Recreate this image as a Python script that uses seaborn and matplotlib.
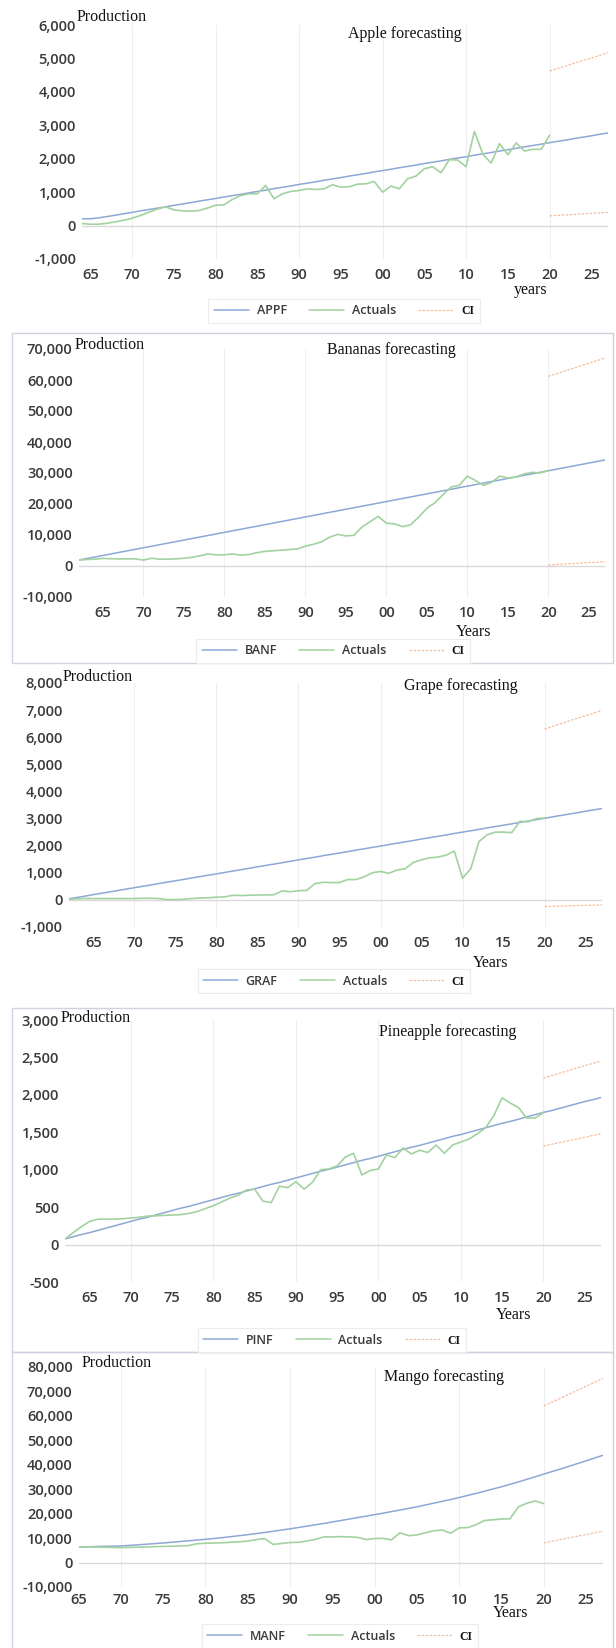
import matplotlib
matplotlib.use("Agg")
import matplotlib.pyplot as plt
import seaborn as sns
import pandas as pd
from matplotlib.lines import Line2D
from matplotlib.patches import Rectangle

sns.set_theme(style="white")
plt.rcParams['font.family'] = ['Open Sans', 'DejaVu Sans']

# ---------------- data ----------------
tick_years = [1965, 1970, 1975, 1980, 1985, 1990, 1995, 2000, 2005, 2010, 2015, 2020, 2025]
tick_labels = ['65', '70', '75', '80', '85', '90', '95', '00', '05', '10', '15', '20', '25']
grid_years = [1970, 1980, 1990, 2000, 2010, 2020]
ci_years = [2020, 2021, 2022, 2023, 2024, 2025, 2026, 2027]

# Apple
apple_fc_start, apple_act_start = 1964, 1964
apple_fc = [200, 205, 230, 270, 310, 355, 395, 440, 480, 520, 560, 605, 645, 685, 730, 770,
            810, 855, 895, 935, 980, 1020, 1060, 1105, 1145, 1185, 1230, 1270, 1310, 1355,
            1395, 1435, 1480, 1520, 1560, 1605, 1645, 1685, 1730, 1770, 1810, 1855, 1895,
            1935, 1980, 2020, 2060, 2105, 2145, 2185, 2230, 2270, 2310, 2355, 2395, 2435,
            2480, 2520, 2560, 2605, 2645, 2685, 2730, 2770]
apple_act = [60, 40, 40, 70, 110, 160, 220, 300, 400, 490, 560, 470, 440, 430, 450, 520,
             610, 620, 780, 900, 950, 950, 1200, 800, 950, 1020, 1050, 1100, 1080, 1100,
             1220, 1150, 1160, 1240, 1250, 1320, 1000, 1180, 1100, 1400, 1480, 1700, 1760,
             1580, 1970, 1960, 1760, 2820, 2140, 1870, 2450, 2120, 2470, 2230, 2280, 2280, 2700]
apple_ci_up = [4620, 4700, 4780, 4860, 4940, 5010, 5090, 5170]
apple_ci_lo = [290, 305, 320, 335, 350, 365, 380, 395]

# Bananas
ban_fc_start, ban_act_start = 1962, 1962
ban_fc = [1900, 2400, 2890, 3390, 3890, 4390, 4880, 5380, 5880, 6370, 6870, 7370, 7860, 8360,
          8860, 9360, 9850, 10350, 10850, 11340, 11840, 12340, 12830, 13330, 13830, 14330,
          14820, 15320, 15820, 16310, 16810, 17310, 17800, 18300, 18800, 19300, 19790, 20290,
          20790, 21280, 21780, 22280, 22770, 23270, 23770, 24270, 24760, 25260, 25760, 26250,
          26750, 27250, 27740, 28240, 28740, 29240, 29730, 30230, 30730, 31220, 31720, 32220,
          32710, 33210, 33710, 34210]
ban_act = [1900, 2100, 2200, 2450, 2350, 2300, 2300, 2300, 1900, 2500, 2200, 2200, 2300, 2500,
           2800, 3300, 3900, 3600, 3600, 3900, 3500, 3700, 4300, 4700, 4900, 5100, 5300, 5500,
           6400, 7000, 7800, 9300, 10200, 9700, 9900, 12600, 14300, 16000, 13800, 13600, 12700,
           13300, 15800, 18600, 20400, 23000, 25500, 26000, 29000, 27600, 26000, 27000, 29000,
           28400, 28700, 29700, 30200, 30000, 30800]
ban_ci_up = [61200, 62000, 62900, 63700, 64600, 65400, 66200, 67100]
ban_ci_lo = [320, 470, 620, 780, 930, 1080, 1240, 1390]

# Grape
gra_fc_start, gra_act_start = 1962, 1962
gra_fc = [40, 90, 140, 195, 245, 295, 345, 400, 450, 500, 550, 605, 655, 705, 755, 810, 860,
          910, 960, 1010, 1065, 1115, 1165, 1220, 1270, 1320, 1370, 1425, 1475, 1525, 1575,
          1630, 1680, 1730, 1780, 1835, 1885, 1935, 1985, 2040, 2090, 2140, 2190, 2245, 2295,
          2345, 2395, 2450, 2500, 2550, 2600, 2655, 2705, 2755, 2805, 2860, 2910, 2960, 3010,
          3065, 3115, 3165, 3215, 3270, 3320, 3370]
gra_act = [20, 40, 50, 50, 50, 50, 50, 50, 50, 60, 60, 50, 10, 10, 20, 50, 70, 80, 100, 110,
           170, 160, 170, 180, 180, 190, 330, 300, 340, 350, 600, 650, 640, 640, 750, 750, 850,
           1000, 1050, 980, 1100, 1150, 1380, 1480, 1550, 1580, 1650, 1800, 800, 1150, 2150,
           2400, 2500, 2500, 2480, 2900, 2880, 3000, 3020]
gra_ci_up = [6300, 6400, 6500, 6600, 6700, 6790, 6890, 6990]
gra_ci_lo = [-245, -236, -228, -219, -211, -202, -194, -185]

# Pineapple
pin_fc_start, pin_act_start = 1962, 1962
pin_fc = [75, 105, 135, 160, 190, 220, 250, 280, 310, 340, 365, 395, 425, 455, 485, 510, 540,
          570, 600, 630, 660, 685, 715, 745, 775, 805, 830, 860, 890, 920, 950, 980, 1005,
          1035, 1065, 1095, 1125, 1150, 1180, 1210, 1240, 1270, 1300, 1325, 1355, 1385, 1415,
          1445, 1470, 1500, 1530, 1560, 1590, 1620, 1645, 1675, 1705, 1735, 1765, 1790, 1820,
          1850, 1880, 1910, 1935, 1965]
pin_act = [75, 160, 240, 310, 340, 340, 340, 345, 355, 365, 380, 385, 390, 395, 400, 415, 440,
           480, 520, 570, 620, 660, 730, 740, 580, 560, 780, 760, 840, 740, 830, 1000, 1010,
           1050, 1170, 1220, 930, 990, 1010, 1200, 1160, 1290, 1210, 1260, 1230, 1330, 1220,
           1330, 1370, 1410, 1480, 1560, 1720, 1960, 1890, 1830, 1690, 1690, 1760]
pin_ci_up = [2224, 2257, 2290, 2323, 2356, 2389, 2421, 2454]
pin_ci_lo = [1316, 1339, 1363, 1386, 1410, 1433, 1457, 1480]

# Mango
man_fc_start, man_act_start = 1965, 1965
man_fc = [6400, 6450, 6550, 6650, 6700, 6800, 7000, 7250, 7500, 7750, 8000, 8300, 8600, 8900,
          9200, 9500, 9850, 10200, 10600, 11000, 11400, 11850, 12300, 12800, 13300, 13800,
          14350, 14900, 15450, 16000, 16600, 17200, 17800, 18400, 19000, 19600, 20200, 20850,
          21500, 22150, 22800, 23550, 24300, 25050, 25800, 26600, 27450, 28300, 29200, 30100,
          31000, 32000, 33000, 34050, 35100, 36200, 37250, 38300, 39400, 40500, 41600, 42750,
          43900]
man_act = [6400, 6400, 6350, 6300, 6200, 6100, 6200, 6300, 6400, 6500, 6600, 6700, 6800, 6950,
           7700, 7900, 8000, 8100, 8300, 8500, 8800, 9400, 9800, 7400, 7800, 8200, 8300, 8800,
           9500, 10500, 10500, 10600, 10500, 10300, 9400, 9800, 9900, 9300, 12200, 11000,
           11300, 12200, 13000, 13300, 12000, 14200, 14300, 15500, 17200, 17500, 17800, 17900,
           22800, 24300, 25200, 24100]
man_ci_up = [64100, 65700, 67300, 68900, 70500, 72100, 73700, 75300]
man_ci_lo = [8050, 8730, 9410, 10090, 10780, 11460, 12140, 12820]

# ---------------- styling ----------------
W, H = 616, 1648
C_FC, C_ACT, C_CI = '#8ea8d6', '#a2d2a0', '#f5bc9c'
TICK_C = '#3a3a3a'
SERIF = ['Liberation Serif', 'DejaVu Serif']
CI_STYLE = (0, (2.0, 1.2))

def fx(x):
    return x / W

def fy(y):
    return 1 - y / H

panels = [
    dict(name='APPF', title='Apple forecasting', fc=apple_fc, fcs=apple_fc_start,
         act=apple_act, acs=apple_act_start, up=apple_ci_up, lo=apple_ci_lo,
         ylim=(-1000, 6000), ystep=1000, box=(82, 608, 25, 259), xpad=6.5,
         prod=(77, 17), title_xy=(405, 34), xlab='years', xlab_xy=(531, 290),
         leg=(344, 311)),
    dict(name='BANF', title='Bananas forecasting', fc=ban_fc, fcs=ban_fc_start,
         act=ban_act, acs=ban_act_start, up=ban_ci_up, lo=ban_ci_lo,
         ylim=(-10000, 70000), ystep=10000, box=(78.6, 605, 349, 597), xpad=6.5,
         prod=(75, 345), title_xy=(391, 350), xlab='Years', xlab_xy=(474, 632),
         leg=(333, 651)),
    dict(name='GRAF', title='Grape forecasting', fc=gra_fc, fcs=gra_fc_start,
         act=gra_act, acs=gra_act_start, up=gra_ci_up, lo=gra_ci_lo,
         ylim=(-1000, 8000), ystep=1000, box=(68.8, 602, 683, 927), xpad=6.5,
         prod=(63, 677), title_xy=(461, 686), xlab='Years', xlab_xy=(491, 963),
         leg=(334, 981)),
    dict(name='PINF', title='Pineapple forecasting', fc=pin_fc, fcs=pin_fc_start,
         act=pin_act, acs=pin_act_start, up=pin_ci_up, lo=pin_ci_lo,
         ylim=(-500, 3000), ystep=500, box=(65, 601, 1020, 1282), xpad=6.5,
         prod=(61, 1018), title_xy=(448, 1032), xlab='Years', xlab_xy=(514, 1315),
         leg=(332, 1340)),
    dict(name='MANF', title='Mango forecasting', fc=man_fc, fcs=man_fc_start,
         act=man_act, acs=man_act_start, up=man_ci_up, lo=man_ci_lo,
         ylim=(-10000, 80000), ystep=10000, box=(78.6, 603, 1367, 1587), xpad=4.0,
         prod=(82, 1363), title_xy=(444, 1377), xlab='Years', xlab_xy=(511, 1613),
         leg=(340, 1636)),
]

fig = plt.figure(figsize=(6.16, 16.48), dpi=100)
fig.patch.set_facecolor('white')

# panel frames
for (x0, x1, y0, y1) in [(12, 613, 333, 663), (12, 613, 1008, 1352), (12, 613, 1352, 1660)]:
    fig.patches.append(Rectangle((fx(x0), fy(y1)), (x1 - x0) / W, (y1 - y0) / H,
                                 transform=fig.transFigure, fill=False,
                                 edgecolor='#cdd3de', linewidth=1.0, zorder=0))

for p in panels:
    l, r, t, b = p['box']
    ax = fig.add_axes([fx(l), fy(b), (r - l) / W, (b - t) / H])
    ax.set_facecolor('none')
    fc_years = list(range(p['fcs'], p['fcs'] + len(p['fc'])))
    act_years = list(range(p['acs'], p['acs'] + len(p['act'])))
    for gy in grid_years:
        ax.axvline(gy, color='#eeeeee', lw=0.8, zorder=0)
    ax.axhline(0, color='#d9d9d9', lw=1.0, zorder=1)
    sns.lineplot(x=fc_years, y=p['fc'], ax=ax, color=C_FC, lw=1.1, zorder=3)
    sns.lineplot(x=act_years, y=p['act'], ax=ax, color=C_ACT, lw=1.2, zorder=4)
    sns.lineplot(x=ci_years, y=p['up'], ax=ax, color=C_CI, lw=0.9,
                 linestyle=CI_STYLE, zorder=3)
    sns.lineplot(x=ci_years, y=p['lo'], ax=ax, color=C_CI, lw=0.9,
                 linestyle=CI_STYLE, zorder=3)
    ax.set_xlim(fc_years[0], 2027)
    ax.set_ylim(*p['ylim'])
    yt = list(range(p['ylim'][0], p['ylim'][1] + 1, p['ystep']))
    ax.set_yticks(yt)
    ax.set_yticklabels([f"{v:,}" for v in yt])
    ax.set_xticks(tick_years)
    ax.set_xticklabels(tick_labels)
    ax.set_xlabel('')
    ax.set_ylabel('')
    for s in ax.spines.values():
        s.set_visible(False)
    ax.tick_params(axis='y', length=0, pad=4.3, labelsize=10.5, labelcolor=TICK_C)
    ax.tick_params(axis='x', length=0, pad=p['xpad'], labelsize=10.5, labelcolor=TICK_C)
    for lab in ax.get_xticklabels() + ax.get_yticklabels():
        lab.set_fontweight('semibold')
    ax.grid(False)

    fig.text(fx(p['prod'][0]), fy(p['prod'][1]), 'Production', family=SERIF,
             fontsize=11.5, ha='left', va='center', color='#111111')
    fig.text(fx(p['title_xy'][0]), fy(p['title_xy'][1]), p['title'], family=SERIF,
             fontsize=11.5, ha='center', va='center', color='#111111')
    fig.text(fx(p['xlab_xy'][0]), fy(p['xlab_xy'][1]), p['xlab'], family=SERIF,
             fontsize=11.5, ha='center', va='center', color='#111111')

    handles = [Line2D([], [], color=C_FC, lw=1.1),
               Line2D([], [], color=C_ACT, lw=1.1),
               Line2D([], [], color=C_CI, lw=0.9, linestyle=CI_STYLE)]
    leg = fig.legend(handles, [p['name'], 'Actuals', 'CI'], loc='center',
                     bbox_to_anchor=(fx(p['leg'][0]), fy(p['leg'][1])), ncol=3,
                     frameon=True, fancybox=False, fontsize=9, handlelength=2.8,
                     handletextpad=0.6, columnspacing=1.8, borderpad=0.45,
                     edgecolor='#ececec', framealpha=1.0)
    leg.get_frame().set_linewidth(0.8)
    for txt in leg.get_texts():
        txt.set_color(TICK_C)
        txt.set_fontweight('semibold')
    ci_txt = leg.get_texts()[2]
    ci_txt.set_fontfamily(SERIF)
    ci_txt.set_fontweight('bold')
    ci_txt.set_fontsize(8.5)
    ci_txt.set_color('#111111')

fig.savefig('out.png', dpi=100, facecolor='white')
